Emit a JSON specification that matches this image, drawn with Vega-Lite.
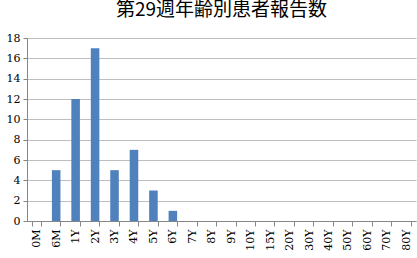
{
  "$schema": "https://vega.github.io/schema/vega-lite/v6.json",
  "width": 389,
  "height": 183,
  "autosize": "none",
  "padding": {"left": 27, "top": 38, "right": 1, "bottom": 37},
  "background": "white",
  "title": {
    "text": "第29週年齢別患者報告数",
    "font": "Noto Sans CJK JP",
    "fontSize": 19,
    "fontWeight": "normal",
    "color": "#000000",
    "anchor": "middle",
    "offset": 12
  },
  "data": {
    "values": [
      {"age": "0M", "count": 0},
      {"age": "6M", "count": 5},
      {"age": "1Y", "count": 12},
      {"age": "2Y", "count": 17},
      {"age": "3Y", "count": 5},
      {"age": "4Y", "count": 7},
      {"age": "5Y", "count": 3},
      {"age": "6Y", "count": 1},
      {"age": "7Y", "count": 0},
      {"age": "8Y", "count": 0},
      {"age": "9Y", "count": 0},
      {"age": "10Y", "count": 0},
      {"age": "15Y", "count": 0},
      {"age": "20Y", "count": 0},
      {"age": "30Y", "count": 0},
      {"age": "40Y", "count": 0},
      {"age": "50Y", "count": 0},
      {"age": "60Y", "count": 0},
      {"age": "70Y", "count": 0},
      {"age": "80Y", "count": 0}
    ]
  },
  "mark": {"type": "bar", "color": "#4F81BD"},
  "encoding": {
    "x": {
      "field": "age",
      "type": "nominal",
      "sort": null,
      "scale": {"paddingInner": 0.56, "paddingOuter": 0.28},
      "axis": {
        "title": null,
        "labelAngle": -90,
        "labelAlign": "right",
        "labelBaseline": "middle",
        "labelFont": "DejaVu Serif",
        "labelFontSize": 11,
        "labelColor": "#000000",
        "labelPadding": 3,
        "tickBand": "extent",
        "tickSize": 5,
        "tickColor": "#868686",
        "domainColor": "#868686",
        "grid": false
      }
    },
    "y": {
      "field": "count",
      "type": "quantitative",
      "scale": {"domain": [0, 18]},
      "axis": {
        "title": null,
        "values": [0, 2, 4, 6, 8, 10, 12, 14, 16, 18],
        "labelFont": "DejaVu Serif",
        "labelFontSize": 11,
        "labelColor": "#000000",
        "labelPadding": 3,
        "tickSize": 4,
        "tickColor": "#868686",
        "domainColor": "#868686",
        "grid": true,
        "gridColor": "#BFBFBF"
      }
    }
  },
  "config": {"view": {"stroke": null}}
}
